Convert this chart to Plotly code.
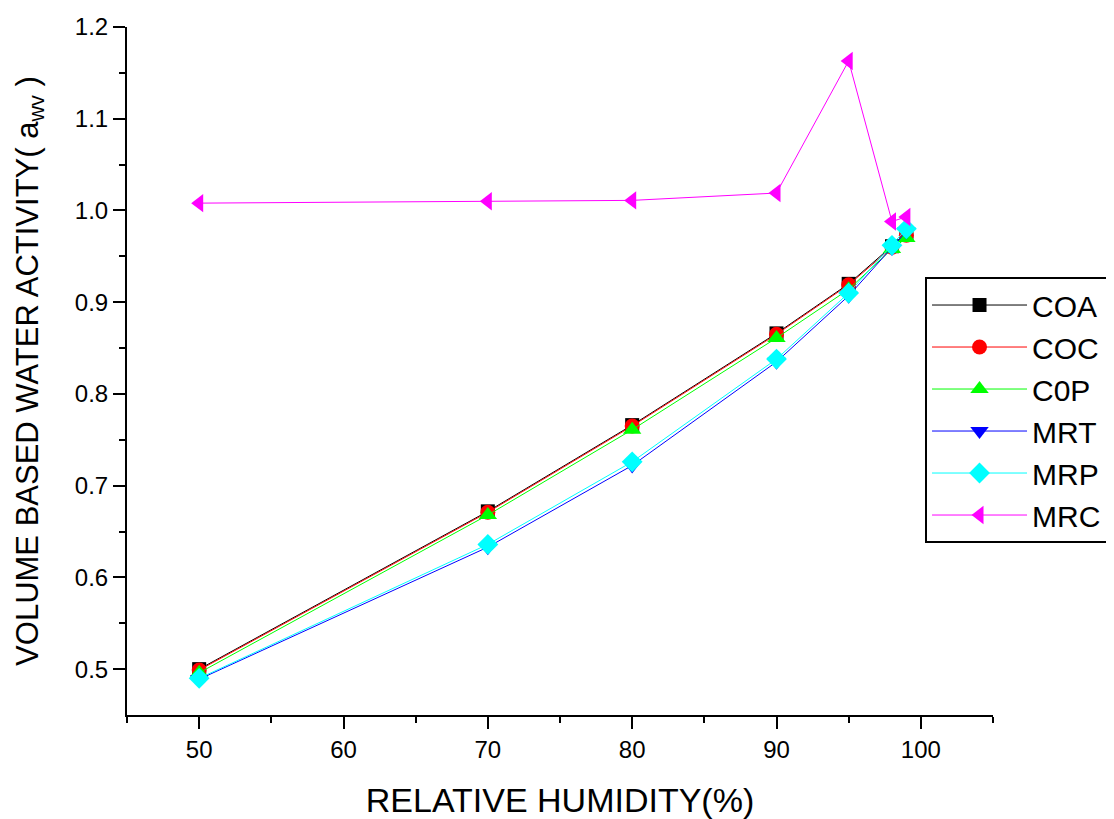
import plotly.graph_objects as go

x = [50, 70, 80, 90, 95, 98, 99]
coa = [0.500, 0.672, 0.766, 0.866, 0.920, 0.961, 0.975]
coc = [0.499, 0.671, 0.765, 0.865, 0.919, 0.960, 0.973]
c0p = [0.496, 0.668, 0.761, 0.861, 0.914, 0.958, 0.970]
mrt = [0.489, 0.633, 0.722, 0.835, 0.907, 0.959, 0.977]
mrp = [0.490, 0.636, 0.726, 0.838, 0.910, 0.962, 0.980]
mrc = [1.008, 1.010, 1.011, 1.019, 1.163, 0.988, 0.993]

series = [
    ("COA", coa, "#000000", "square", 14),
    ("COC", coc, "#ff0000", "circle", 15),
    ("C0P", c0p, "#00ff00", "triangle-up", 16),
    ("MRT", mrt, "#0000ff", "triangle-down", 16),
    ("MRP", mrp, "#00ffff", "diamond", 16),
    ("MRC", mrc, "#ff00ff", "triangle-left", 16),
]

fig = go.Figure()
for name, ys, color, sym, sz in series:
    fig.add_trace(go.Scatter(
        x=x, y=ys, name=name, mode="lines+markers",
        line=dict(color=color, width=1),
        marker=dict(symbol=sym, size=sz, color=color, line=dict(width=0)),
    ))

fig.update_layout(
    width=1098, height=811,
    paper_bgcolor="white", plot_bgcolor="white",
    margin=dict(l=119, r=113, t=19, b=104, autoexpand=False),
    font=dict(family="Liberation Sans, Arial, sans-serif", color="black"),
    showlegend=True,
    legend=dict(
        x=0.9215, y=0.6366, xanchor="left", yanchor="top",
        bordercolor="black", borderwidth=2, bgcolor="white",
        font=dict(size=30), itemwidth=95, tracegroupgap=0,
    ),
    xaxis=dict(
        range=[45, 105], tickvals=[50, 60, 70, 80, 90, 100], automargin=False,
        showgrid=False, zeroline=False, showline=True, linecolor="black", linewidth=2,
        ticks="outside", ticklen=12, tickwidth=2, tickcolor="black",
        minor=dict(tickvals=[45, 55, 65, 75, 85, 95, 105], ticks="outside", ticklen=6, tickwidth=2, tickcolor="black"),
        tickfont=dict(size=24),
        title=dict(text="RELATIVE HUMIDITY(%)", font=dict(size=34), standoff=32),
    ),
    yaxis=dict(
        range=[0.45, 1.2], tickvals=[0.5, 0.6, 0.7, 0.8, 0.9, 1.0, 1.1, 1.2], automargin=False,
        ticktext=["0.5", "0.6", "0.7", "0.8", "0.9", "1.0", "1.1", "1.2"],
        showgrid=False, zeroline=False, showline=True, linecolor="black", linewidth=2,
        ticks="outside", ticklen=12, tickwidth=2, tickcolor="black",
        minor=dict(tickvals=[0.55, 0.65, 0.75, 0.85, 0.95, 1.05, 1.15], ticks="outside", ticklen=6, tickwidth=2, tickcolor="black"),
        tickfont=dict(size=24),
        title=dict(text="VOLUME BASED WATER ACTIVITY( a<sub>wv</sub> )", font=dict(size=31), standoff=27),
    ),
)

fig.write_html("out.html")
